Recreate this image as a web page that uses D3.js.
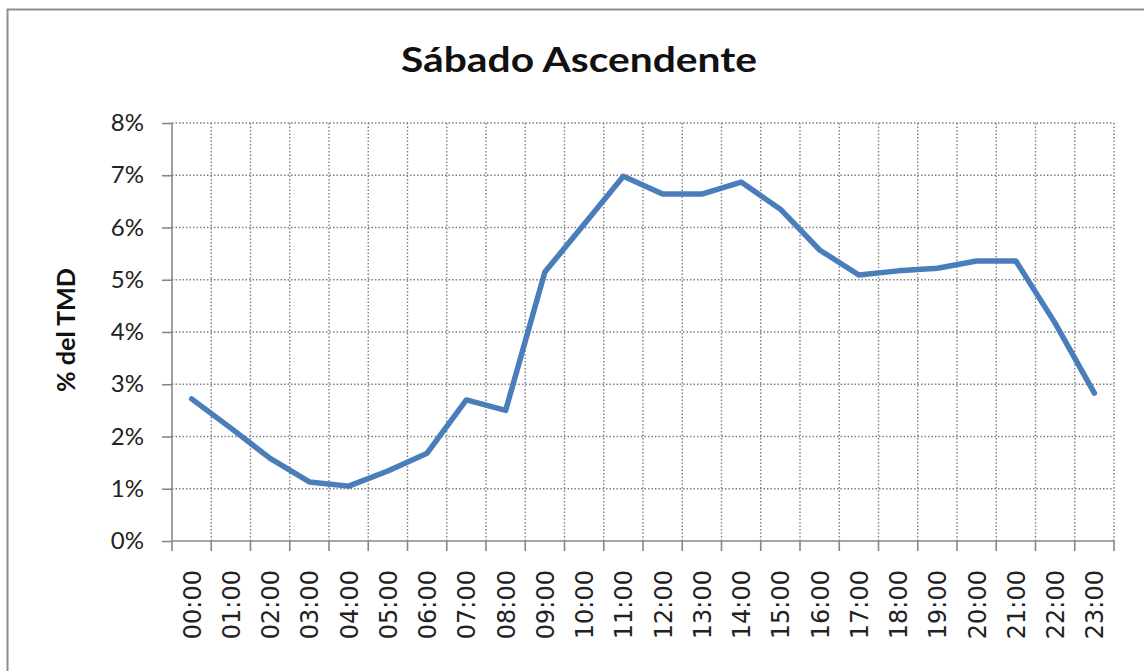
<!DOCTYPE html>
<html>
<head>
<meta charset="utf-8">
<script src="https://cdn.jsdelivr.net/npm/d3@7"></script>
<style>
  body { margin: 0; background: #fff; }
  svg { display: block; }
</style>
</head>
<body>
<div id="chart"></div>
<script>
// data
let hours = ["00:00","01:00","02:00","03:00","04:00","05:00","06:00","07:00","08:00","09:00","10:00","11:00",
             "12:00","13:00","14:00","15:00","16:00","17:00","18:00","19:00","20:00","21:00","22:00","23:00"];
let pctTMD = [0.0272,0.0216,0.0158,0.0113,0.0105,0.0134,0.0168,0.0270,0.0250,0.0515,0.0606,0.0698,
              0.0664,0.0664,0.0687,0.0635,0.0557,0.0509,0.0517,0.0522,0.0536,0.0536,0.0417,0.0283];
let yTicks = [0,0.01,0.02,0.03,0.04,0.05,0.06,0.07,0.08];

let W = 1144, H = 671;
let margin = {top: 123, right: 30, bottom: 130, left: 172},
    width = 942,
    height = 418;

let svg = d3.select("#chart").append("svg")
    .attr("width", W)
    .attr("height", H);

// chart frame
svg.append("rect")
    .attr("x", 7.5).attr("y", 9.5)
    .attr("width", 1160).attr("height", 700)
    .attr("fill", "#fff")
    .attr("stroke", "#8e8e8e")
    .attr("stroke-width", 2);

// title
svg.append("text")
    .attr("x", 579).attr("y", 72)
    .attr("text-anchor", "middle")
    .attr("textLength", 356)
    .attr("lengthAdjust", "spacingAndGlyphs")
    .style("font-family", "Lato, 'Open Sans', sans-serif")
    .style("font-weight", "bold")
    .style("font-size", "34px")
    .style("fill", "#111")
    .text("Sábado Ascendente");

let g = svg.append("g")
    .attr("transform", "translate(" + margin.left + "," + margin.top + ")");

let x = d3.scaleBand().domain(hours).range([0, width]).padding(0),
    y = d3.scaleLinear().domain([0, 0.08]).range([height, 0]);

let gridColor = "#7f7f7f";

// horizontal grid
g.append("g")
    .selectAll("line")
    .data(yTicks.slice(1))
    .enter().append("line")
    .attr("x1", 0).attr("x2", width)
    .attr("y1", function(d) { return y(d); })
    .attr("y2", function(d) { return y(d); })
    .attr("stroke", gridColor)
    .attr("stroke-width", 1.4)
    .attr("stroke-dasharray", "1.5,2");

// vertical grid on category boundaries
let bounds = hours.map(function(d) { return x(d) + x.bandwidth(); });
g.append("g")
    .selectAll("line")
    .data(bounds)
    .enter().append("line")
    .attr("x1", function(d) { return d; })
    .attr("x2", function(d) { return d; })
    .attr("y1", 0).attr("y2", height)
    .attr("stroke", gridColor)
    .attr("stroke-width", 1.4)
    .attr("stroke-dasharray", "1.5,2");

// y axis
let yAxis = d3.axisLeft(y)
    .tickValues(yTicks)
    .tickFormat(d3.format(".0%"))
    .tickSize(10)
    .tickPadding(18);

let ya = g.append("g").call(yAxis);
ya.select(".domain").remove();
ya.append("line")
    .attr("x1", 0).attr("x2", 0)
    .attr("y1", 0).attr("y2", height)
    .attr("stroke", "#878787").attr("stroke-width", 1.6);
ya.selectAll(".tick line").attr("stroke", "#878787").attr("stroke-width", 1.6);
ya.selectAll("text")
    .style("font-family", "Lato, 'Open Sans', sans-serif")
    .style("font-size", "24px")
    .style("fill", "#222");

// x axis: ticks on band edges, labels in band centers
let xa = g.append("g").attr("transform", "translate(0," + height + ")");
xa.append("line")
    .attr("x1", 0).attr("x2", width)
    .attr("stroke", "#878787").attr("stroke-width", 1.6);
xa.selectAll(".xt")
    .data([0].concat(bounds))
    .enter().append("line")
    .attr("class", "xt")
    .attr("x1", function(d) { return d; })
    .attr("x2", function(d) { return d; })
    .attr("y1", 0).attr("y2", 10)
    .attr("stroke", "#878787").attr("stroke-width", 1.6);
xa.selectAll(".xl")
    .data(hours)
    .enter().append("text")
    .attr("class", "xl")
    .attr("transform", function(d) {
      return "translate(" + (x(d) + x.bandwidth() / 2 + 9) + ",29) rotate(-90)";
    })
    .attr("text-anchor", "end")
    .style("font-family", "'DejaVu Sans', sans-serif")
    .style("font-size", "24px")
    .style("fill", "#222")
    .text(function(d) { return d; });

// y axis title
svg.append("text")
    .attr("transform", "translate(75,330) rotate(-90)")
    .attr("text-anchor", "middle")
    .attr("textLength", 124)
    .attr("lengthAdjust", "spacingAndGlyphs")
    .style("font-family", "Lato, 'Open Sans', sans-serif")
    .style("font-weight", "bold")
    .style("font-size", "24px")
    .style("fill", "#111")
    .text("% del TMD");

// the series
let line = d3.line()
    .x(function(d, i) { return x(hours[i]) + x.bandwidth() / 2; })
    .y(function(d) { return y(d); });

g.append("path")
    .datum(pctTMD)
    .attr("d", line)
    .attr("fill", "none")
    .attr("stroke", "#4a7ebb")
    .attr("stroke-width", 5.5)
    .attr("stroke-linejoin", "round")
    .attr("stroke-linecap", "round");
</script>
</body>
</html>
